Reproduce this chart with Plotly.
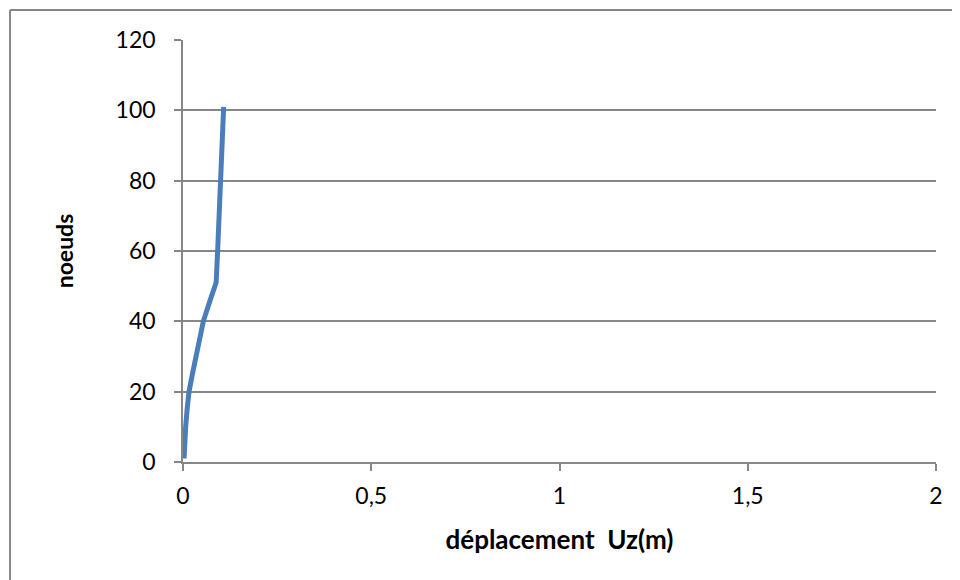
import plotly.graph_objects as go

# Node number (y) and vertical displacement Uz in metres (x)
noeuds = [1, 5, 10, 15, 20, 25, 30, 35, 40, 45, 51, 60, 70, 80, 90, 101]
deplacement_uz = [0.003, 0.004, 0.007, 0.011, 0.016, 0.025, 0.035, 0.044, 0.054,
                  0.069, 0.088, 0.092, 0.096, 0.100, 0.104, 0.108]

x_ticks = [0, 0.5, 1, 1.5, 2]
y_ticks = [0, 20, 40, 60, 80, 100, 120]

GRID = '#868686'
FONT = 'Lato, Open Sans, sans-serif'


def main():
    fig = go.Figure()
    fig.add_trace(go.Scatter(x=deplacement_uz, y=noeuds, mode='lines',
                             line=dict(color='#4A7EBB', width=5),
                             showlegend=False))

    # the page body adds an 8px margin, so the figure is a bit smaller than the window
    fig.update_layout(
        width=952, height=572,
        margin=dict(l=175, r=24, t=32, b=118),
        paper_bgcolor='white', plot_bgcolor='white',
        separators=', ',
        font=dict(family=FONT, size=23, color='black'),
    )
    fig.update_xaxes(range=[0, 2], tickvals=x_ticks, showgrid=False, zeroline=False,
                     showline=True, linecolor=GRID, linewidth=1.5,
                     ticks='outside', ticklen=7, tickcolor=GRID, tickwidth=1.5,
                     ticklabelstandoff=6,
                     title=dict(text='<b>déplacement  Uz(m)</b>', font=dict(size=26),
                                standoff=22))
    fig.update_yaxes(range=[0, 120], tickvals=y_ticks, showgrid=True, gridcolor=GRID,
                     gridwidth=1.5, zeroline=False,
                     showline=True, linecolor=GRID, linewidth=1.5,
                     ticks='outside', ticklen=7, tickcolor=GRID, tickwidth=1.5,
                     ticklabelstandoff=14,
                     title=dict(text='<b>noeuds</b>', font=dict(size=23), standoff=36))

    # Chart-area frame (only top and left edges are inside the picture)
    fig.add_shape(type='line', xref='paper', yref='paper', x0=-0.2297, x1=1.1,
                  y0=1.0711, y1=1.0711, line=dict(color=GRID, width=2))
    fig.add_shape(type='line', xref='paper', yref='paper', x0=-0.2297, x1=-0.2297,
                  y0=1.0711, y1=-0.4, line=dict(color=GRID, width=2))

    fig.write_html('out.html')


if __name__ == '__main__':
    main()
